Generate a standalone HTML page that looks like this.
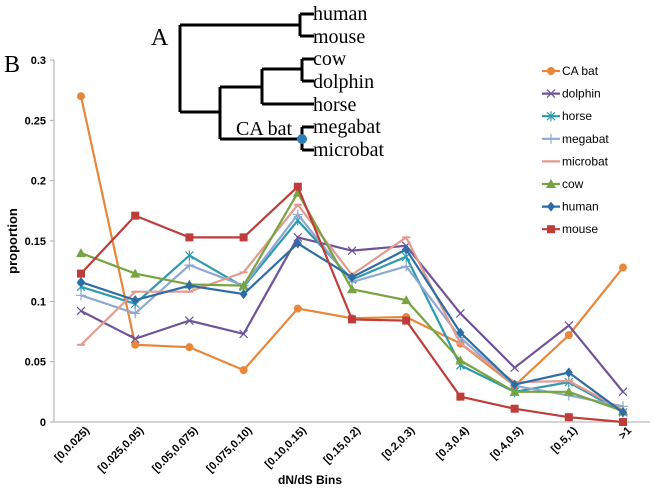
<!DOCTYPE html>
<html><head><meta charset="utf-8"><style>
body{margin:0;background:#fff;}
svg{display:block;font-family:"Liberation Sans",sans-serif;}
</style></head><body>
<svg id="c" width="656" height="490">
<g stroke="#000" stroke-width="3" fill="none">
<path d="M180,25V112M180,25H300M300,14V36M300,14H314M300,36H314M180,112H220M220,87V139M220,87H262M262,69V104M262,104H314M262,69H302M302,59V81M302,59H314M302,81H314M220,139H302M302,127V150M302,127H314M302,150H314"/>
</g>
<circle cx="302" cy="139" r="5" fill="#2E7DB5"/>
<g font-family="'Liberation Serif',serif" font-size="20" fill="#000">
<text x="313" y="20">human</text>
<text x="313" y="43">mouse</text>
<text x="313" y="65">cow</text>
<text x="313" y="88">dolphin</text>
<text x="313" y="111">horse</text>
<text x="313" y="133">megabat</text>
<text x="313" y="156">microbat</text>
<text x="236" y="135">CA bat</text>
<text x="151" y="45" font-size="24">A</text>
<text x="4" y="72" font-size="24">B</text>
</g>
<text transform="translate(17,241) rotate(-90)" text-anchor="middle" font-size="13" font-weight="bold">proportion</text>
<text x="310" y="484" text-anchor="middle" font-size="12" font-weight="bold">dN/dS Bins</text>
<g id="axes"></g><g id="series"></g><g id="legend"></g>
</svg>
<script>
const categories=["[0,0.025)","[0.025,0.05)","[0.05,0.075)","[0.075,0.10)","[0.10,0.15)","[0.15,0.2)","[0.2,0.3)","[0.3,0.4)","[0.4,0.5)","[0.5,1)",">1"];
const yTicks=[0,0.05,0.1,0.15,0.2,0.25,0.3];
const yTickLabels=["0","0.05","0.1","0.15","0.2","0.25","0.3"];
const seriesNames=["CA bat","dolphin","horse","megabat","microbat","cow","human","mouse"];
const caBat=[0.270,0.064,0.062,0.043,0.094,0.086,0.087,0.065,0.030,0.072,0.128];
const dolphin=[0.092,0.069,0.084,0.073,0.153,0.142,0.146,0.090,0.045,0.080,0.025];
const horse=[0.112,0.098,0.138,0.112,0.167,0.118,0.137,0.047,0.025,0.033,0.008];
const megabat=[0.105,0.090,0.130,0.113,0.172,0.116,0.129,0.070,0.030,0.022,0.013];
const microbat=[0.064,0.108,0.108,0.124,0.180,0.122,0.153,0.065,0.033,0.034,0.010];
const cow=[0.140,0.123,0.114,0.113,0.190,0.110,0.101,0.051,0.025,0.025,0.009];
const human=[0.116,0.101,0.113,0.106,0.148,0.120,0.143,0.074,0.031,0.041,0.008];
const mouse=[0.123,0.171,0.153,0.153,0.195,0.085,0.084,0.021,0.011,0.004,0.000];
const seriesValues=[caBat,dolphin,horse,megabat,microbat,cow,human,mouse];
const colors=["#E8873A","#6E5496","#2E9AAF","#8FA8CF","#E39A8F","#77A340","#2E6DA4","#BE3D3A"];
const markers=["circle","x","star","plus","dash","tri","diamond","square"];
const NS="http://www.w3.org/2000/svg";
const x0=81,dx=54.2,yBase=422,yTop=60;
const xs=i=>x0+i*dx;
const ys=v=>yBase-(v/0.3)*(yBase-yTop);
function mk(t,a,p){const e=document.createElementNS(NS,t);for(const k in a)e.setAttribute(k,a[k]);p.appendChild(e);return e;}
const axes=document.getElementById('axes');
const ax=mk('path',{d:`M54,${yTop}V${yBase}H650`,stroke:'#aaa',fill:'none','stroke-width':1},axes);


yTicks.forEach((v,i)=>{
 const tk=mk('line',{x1:50,x2:54,y1:ys(v),y2:ys(v),stroke:'#aaa'},axes);
 
 
 const t=mk('text',{x:46,y:ys(v)+4,'text-anchor':'end','font-size':11,'font-weight':'bold'},axes);
 t.textContent=yTickLabels[i];
 
 
});
categories.forEach((c,i)=>{
 const t=mk('text',{transform:`translate(${xs(i)+9},431) rotate(-45)`,'text-anchor':'end','font-size':11,'font-weight':'bold'},axes);
 t.textContent=c;
 
 
});
function marker(type,x,y,col,p){
 let e;
 if(type=='circle')e=mk('circle',{cx:x,cy:y,r:4,fill:col},p);
 else if(type=='square')e=mk('rect',{x:x-4,y:y-4,width:8,height:8,fill:col},p);
 else if(type=='tri')e=mk('path',{d:`M${x},${y-5}L${x+5},${y+4}L${x-5},${y+4}Z`,fill:col},p);
 else if(type=='diamond')e=mk('path',{d:`M${x},${y-5}L${x+4},${y}L${x},${y+5}L${x-4},${y}Z`,fill:col},p);
 else if(type=='x')e=mk('path',{d:`M${x-4},${y-4}L${x+4},${y+4}M${x-4},${y+4}L${x+4},${y-4}`,stroke:col,'stroke-width':1.2},p);
 else if(type=='star')e=mk('path',{d:`M${x-4},${y-4}L${x+4},${y+4}M${x-4},${y+4}L${x+4},${y-4}M${x},${y-5}V${y+5}`,stroke:col,'stroke-width':1.2},p);
 else if(type=='plus')e=mk('path',{d:`M${x-5},${y}H${x+5}M${x},${y-5}V${y+5}`,stroke:col,'stroke-width':1.2},p);
 else e=mk('path',{d:`M${x-4},${y}H${x+4}`,stroke:col,'stroke-width':2},p);
 return e;
}
const sg=document.getElementById('series');
seriesValues.forEach((vals,s)=>{
 const g=mk('g',{},sg);
 
 
 const pl=mk('polyline',{points:vals.map((v,i)=>xs(i)+','+ys(v)).join(' '),fill:'none',stroke:colors[s],'stroke-width':2.2},g);
 
 
 vals.forEach((v,i)=>{
  const m=marker(markers[s],xs(i),ys(v),colors[s],g);
  
  
 });
});
const lg=document.getElementById('legend');
seriesNames.forEach((n,s)=>{
 const y=71+s*22.6;
 const g=mk('g',{},lg);
 
 
 mk('line',{x1:542,x2:560,y1:y,y2:y,stroke:colors[s],'stroke-width':2.2},g);
 marker(markers[s],551,y,colors[s],g);
 const t=mk('text',{x:562,y:y+4,'font-size':12},g);
 t.textContent=n;
});
</script>
</body></html>
